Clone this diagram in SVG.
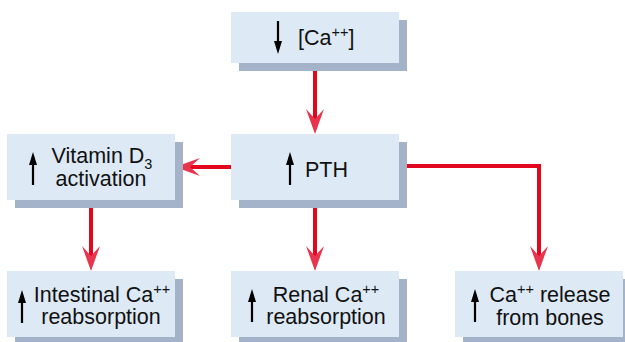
<svg xmlns="http://www.w3.org/2000/svg" xmlns:xlink="http://www.w3.org/1999/xlink" width="625" height="342" viewBox="0 0 625 342">
<style>
.box{fill:#dde9f5}
.sh{fill:#a4b3c9}
.t{font-family:"Liberation Sans",Arial,sans-serif;font-size:21.5px;fill:#111}
.sup{font-size:14.5px}
.con{fill:none;stroke:#e3061f;stroke-width:4;stroke-linejoin:miter}
</style>
<defs>
<marker id="ah" markerUnits="userSpaceOnUse" markerWidth="26" markerHeight="20" refX="19" refY="10" orient="auto" viewBox="0 0 26 20">
<path d="M25,10 L0,1 L10,10 L0,19 Z" fill="#e8344c"/>
</marker>
<g id="up"><path d="M0,0 L-4,13 L4,13 Z" fill="#000"/><rect x="-1.1" y="10" width="2.2" height="23" fill="#000"/></g>
</defs>

<g id="connectors">
<path class="con" d="M315,63 V128" marker-end="url(#ah)"/>
<path class="con" d="M231,167 H181" marker-end="url(#ah)"/>
<path class="con" d="M91,200 V265" marker-end="url(#ah)"/>
<path class="con" d="M315,200 V265" marker-end="url(#ah)"/>
<path class="con" d="M399,166 H539 V265" marker-end="url(#ah)"/>
</g>

<g id="ca">
<rect class="sh" x="239" y="20" width="168" height="51"/>
<rect class="box" x="231" y="12" width="168" height="51"/>
<use xlink:href="#up" transform="translate(278,54) rotate(180)"/>
<text class="t" x="298" y="45">[Ca<tspan class="sup" dy="-8">++</tspan><tspan dy="8">]</tspan></text>
</g>

<g id="pth">
<rect class="sh" x="239" y="142" width="168" height="66"/>
<rect class="box" x="231" y="134" width="168" height="66"/>
<use xlink:href="#up" transform="translate(290,152)"/>
<text class="t" x="305" y="177">PTH</text>
</g>

<g id="vitd">
<rect class="sh" x="15" y="142" width="168" height="66"/>
<rect class="box" x="7" y="134" width="168" height="66"/>
<use xlink:href="#up" transform="translate(33,152)"/>
<text class="t" x="102" y="163" text-anchor="middle">Vitamin D<tspan class="sup" dy="6">3</tspan></text>
<text class="t" x="101" y="186" text-anchor="middle">activation</text>
</g>

<g id="intestinal">
<rect class="sh" x="15" y="279" width="168" height="66"/>
<rect class="box" x="7" y="271" width="168" height="66"/>
<use xlink:href="#up" transform="translate(22,290)"/>
<text class="t" x="102" y="302" text-anchor="middle">Intestinal Ca<tspan class="sup" dy="-8">++</tspan></text>
<text class="t" x="101" y="324" text-anchor="middle">reabsorption</text>
</g>

<g id="renal">
<rect class="sh" x="239" y="279" width="168" height="66"/>
<rect class="box" x="231" y="271" width="168" height="66"/>
<use xlink:href="#up" transform="translate(252,289)"/>
<text class="t" x="326" y="302" text-anchor="middle">Renal Ca<tspan class="sup" dy="-8">++</tspan></text>
<text class="t" x="326" y="324" text-anchor="middle">reabsorption</text>
</g>

<g id="bones">
<rect class="sh" x="463" y="279" width="168" height="66"/>
<rect class="box" x="455" y="271" width="168" height="66"/>
<use xlink:href="#up" transform="translate(475,289)"/>
<text class="t" x="550" y="302" text-anchor="middle">Ca<tspan class="sup" dy="-8">++</tspan><tspan dy="8"> release</tspan></text>
<text class="t" x="550" y="325" text-anchor="middle">from bones</text>
</g>
</svg>
